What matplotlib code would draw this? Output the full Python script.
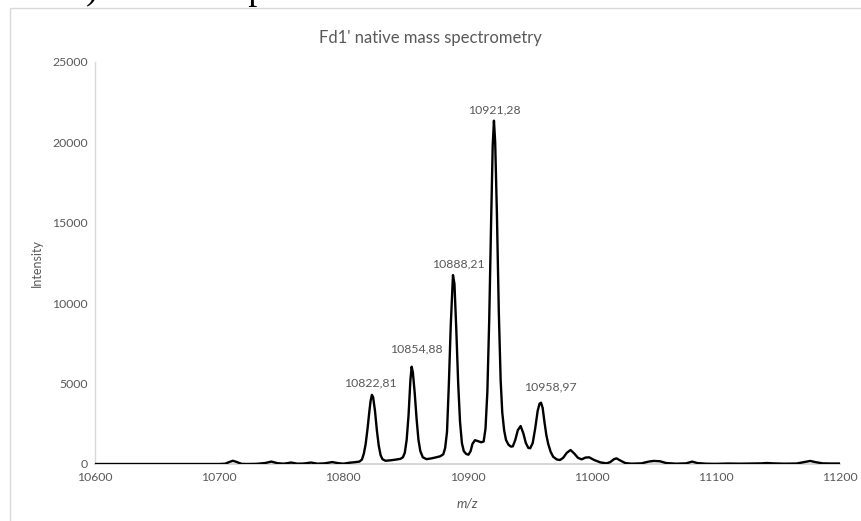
import matplotlib
matplotlib.use("Agg")
import matplotlib.pyplot as plt
from matplotlib.patches import Rectangle

# ---- data ----
mz = [10600, 10650, 10700, 10705, 10708, 10711, 10714, 10718, 10722, 10730,
      10737, 10742, 10747, 10752, 10758, 10763, 10768, 10774, 10779, 10785,
      10791, 10796, 10800, 10805, 10809, 10813,
      10815, 10816.5, 10818, 10819.5, 10821, 10822, 10823, 10824, 10825.5, 10827,
      10828.5, 10830, 10831.5, 10834, 10838, 10842, 10846, 10848,
      10849.5, 10851, 10852.5, 10854, 10855, 10856, 10857.5, 10859, 10860.5, 10862,
      10864, 10867, 10871, 10875, 10878, 10880.5,
      10882, 10883.5, 10885, 10886.5, 10888.3, 10889.5, 10891, 10892.5, 10894, 10895.5,
      10897, 10899, 10900.8, 10902.5, 10904, 10906, 10908.5, 10911, 10913, 10914.5,
      10916, 10917.5, 10919, 10920.3, 10921.3, 10922.3, 10923.7, 10925.2, 10926.7, 10928,
      10929.5, 10931, 10933, 10935, 10936.5, 10938.5, 10940.5, 10942.8, 10945, 10947,
      10949, 10950.5, 10952.5, 10954.5, 10956.5, 10958, 10959.2, 10960.5, 10962, 10963.5,
      10965, 10967, 10969, 10972, 10974.5, 10977, 10980, 10983, 10986, 10989,
      10992, 10995, 10998, 11002, 11007, 11012, 11015, 11018, 11020, 11023,
      11027, 11032, 11040, 11046, 11050, 11055, 11060, 11068, 11076, 11081,
      11085, 11092, 11100, 11110, 11120, 11130, 11137, 11141, 11146, 11155,
      11165, 11172, 11176, 11180, 11186, 11193, 11200]
intensity = [0, 0, 0, 20, 120, 200, 130, 10, 0, 10,
             60, 150, 50, 20, 90, 20, 30, 90, 20, 40,
             120, 50, 20, 80, 110, 150,
             280, 640, 1250, 2200, 3300, 3950, 4300, 4150, 3300, 2100,
             1150, 550, 300, 200, 230, 270, 320, 420,
             700, 1500, 3000, 5200, 6050, 5700, 4400, 2800, 1500, 800,
             420, 300, 350, 420, 480, 600,
             1000, 2000, 5000, 8600, 11750, 11200, 8300, 5000, 2600, 1300,
             800, 620, 580, 800, 1250, 1480, 1420, 1350, 1400, 2200,
             4500, 9000, 15000, 19800, 21350, 20000, 15500, 9500, 5200, 3200,
             2100, 1500, 1200, 1080, 1100, 1500, 2100, 2360, 1900, 1300,
             1000, 980, 1300, 2200, 3300, 3750, 3810, 3500, 2600, 1800,
             1250, 750, 450, 280, 250, 380, 700, 870, 650, 380,
             290, 400, 415, 250, 100, 40, 120, 300, 350, 220,
             60, 20, 40, 150, 190, 170, 60, 20, 40, 150,
             60, 20, 10, 30, 20, 30, 40, 60, 40, 20,
             30, 130, 190, 120, 40, 30, 30]

peak_labels = ["10822,81", "10854,88", "10888,21", "10921,28", "10958,97"]
peak_mz = [10823, 10855, 10888.3, 10921.3, 10959.2]
peak_int = [4300, 6050, 11750, 21350, 3810]

x_ticks = [10600, 10700, 10800, 10900, 11000, 11100, 11200]
y_ticks = [0, 5000, 10000, 15000, 20000, 25000]

title = "Fd1' native mass spectrometry"
caption = "B) ESI-MS spectra of Fd1' in native mode"

# ---- styling ----
W, H = 862, 521
gray = "#595959"
plt.rcParams['font.family'] = ['Lato', 'DejaVu Sans']

fig = plt.figure(figsize=(W / 100, H / 100), dpi=100)
fig.patch.set_facecolor("white")

# chart frame (Excel chart area border)
fig.add_artist(Rectangle((10 / W, -0.05), 1.2, 1 - 8 / H + 0.05,
                         transform=fig.transFigure, fill=False,
                         edgecolor="#d9d9d9", lw=1.0))

# cut-off document caption above the chart (only its lower edge is visible)
fig.text(62 / W, 1 + 1 / H, caption, family="Liberation Serif", fontsize=26,
         color="black", ha="left", va="baseline")

ax = fig.add_axes([95 / W, 57 / H, 745 / W, 402 / H])
ax.plot(mz, intensity, color="black", lw=1.7, solid_joinstyle="round", zorder=3)

ax.set_xlim(10600, 11200)
ax.set_ylim(0, 25000)
ax.set_xticks(x_ticks)
ax.set_yticks(y_ticks)
ax.tick_params(length=0, labelsize=8.8, colors=gray)
ax.tick_params(axis="y", pad=5)
ax.tick_params(axis="x", pad=6)
for s in ["top", "right"]:
    ax.spines[s].set_visible(False)
ax.spines["left"].set_color("#d9d9d9")
ax.spines["bottom"].set_color("#d0d0d0")
ax.spines["left"].set_linewidth(1.0)
ax.spines["bottom"].set_linewidth(1.2)

fig.text(430 / W, 1 - 38 / H, title, fontsize=12, color=gray,
         ha="center", va="center")
ax.set_ylabel("Intensity", fontsize=9, color=gray, labelpad=7)
ax.set_xlabel("m/z", fontsize=9.5, color=gray, style="italic", labelpad=10)

offsets = [(-2, 12), (5, 18), (5, 11), (0, 11), (9, 16)]
for lab, x, y, off in zip(peak_labels, peak_mz, peak_int, offsets):
    ax.annotate(lab, (x, y), xytext=off, textcoords="offset pixels",
                ha="center", va="center", fontsize=8.8, color=gray)

fig.savefig("out.png", dpi=100, facecolor="white")
